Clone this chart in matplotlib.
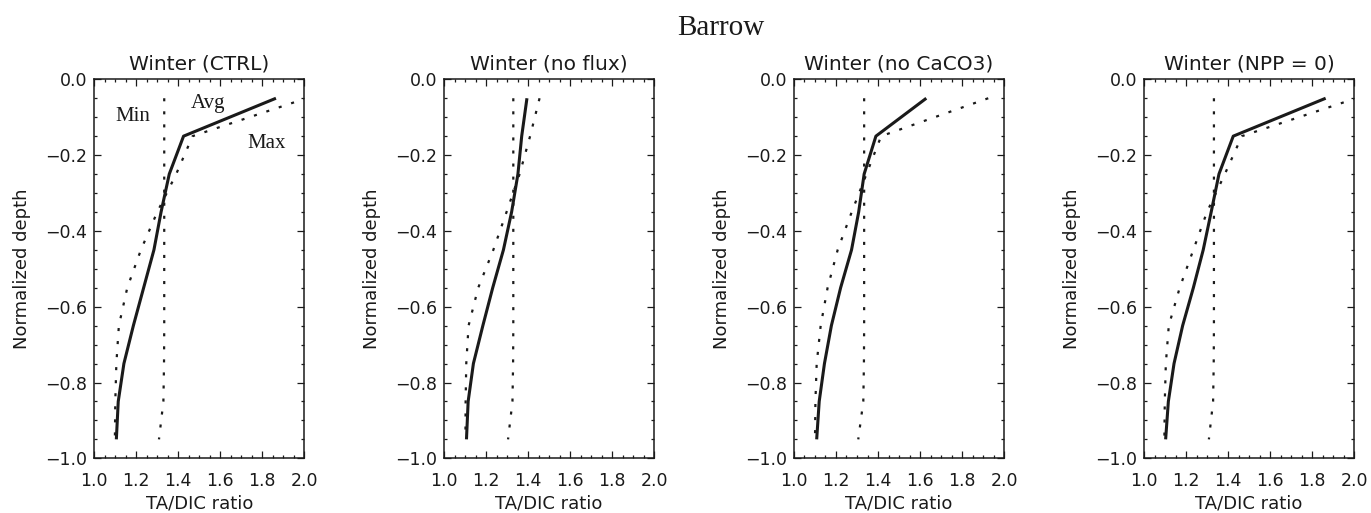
import matplotlib
matplotlib.use("Agg")
import matplotlib.pyplot as plt
from matplotlib.ticker import MultipleLocator

# ---------------- data ----------------
depth = [-0.05, -0.15, -0.25, -0.35, -0.45, -0.55, -0.65, -0.75, -0.85, -0.95]

panel_titles = ["Winter (CTRL)", "Winter (no flux)", "Winter (no CaCO3)", "Winter (NPP = 0)"]

avg_ctrl   = [1.865, 1.425, 1.357, 1.318, 1.284, 1.235, 1.186, 1.141, 1.114, 1.105]
min_ctrl   = [1.333, 1.333, 1.333, 1.333, 1.333, 1.333, 1.333, 1.332, 1.329, 1.308]
max_ctrl   = [2.010, 1.468, 1.390, 1.300, 1.222, 1.157, 1.117, 1.105, 1.100, 1.098]

avg_noflux = [1.395, 1.370, 1.352, 1.322, 1.283, 1.232, 1.185, 1.140, 1.115, 1.107]
min_noflux = [1.330, 1.330, 1.330, 1.330, 1.330, 1.330, 1.330, 1.329, 1.326, 1.305]
max_noflux = [1.455, 1.410, 1.360, 1.298, 1.235, 1.163, 1.117, 1.106, 1.103, 1.102]

avg_nocaco3 = [1.630, 1.390, 1.334, 1.308, 1.274, 1.222, 1.178, 1.145, 1.120, 1.108]
min_nocaco3 = [1.334, 1.334, 1.334, 1.334, 1.334, 1.334, 1.334, 1.333, 1.330, 1.306]
max_nocaco3 = [1.925, 1.415, 1.345, 1.275, 1.208, 1.160, 1.127, 1.108, 1.102, 1.100]

avg_npp0 = [1.865, 1.425, 1.357, 1.320, 1.282, 1.235, 1.184, 1.143, 1.116, 1.103]
min_npp0 = [1.333, 1.333, 1.333, 1.333, 1.333, 1.333, 1.333, 1.332, 1.329, 1.309]
max_npp0 = [2.010, 1.466, 1.385, 1.300, 1.235, 1.170, 1.118, 1.104, 1.099, 1.097]

avg_series = [avg_ctrl, avg_noflux, avg_nocaco3, avg_npp0]
min_series = [min_ctrl, min_noflux, min_nocaco3, min_npp0]
max_series = [max_ctrl, max_noflux, max_nocaco3, max_npp0]

x_ticks = [1.0, 1.2, 1.4, 1.6, 1.8, 2.0]
y_ticks = [0.0, -0.2, -0.4, -0.6, -0.8, -1.0]

# ---------------- figure ----------------
plt.rcParams["lines.scale_dashes"] = False
W, H = 1371, 513
fig = plt.figure(figsize=(W / 100, H / 100), dpi=100)

ink = "#1a1a1a"
lefts = [94.3, 444.0, 794.0, 1144.0]
ax_w, ax_top, ax_bot = 210.0, 79.3, 458.3

for i in range(4):
    ax = fig.add_axes([lefts[i] / W, (H - ax_bot) / H, ax_w / W, (ax_bot - ax_top) / H])
    ax.plot(min_series[i], depth, color=ink, lw=1.6, dashes=(2.2, 7.2))
    ax.plot(max_series[i], depth, color=ink, lw=1.6, dashes=(2.2, 7.2))
    ax.plot(avg_series[i], depth, color=ink, lw=2.2, solid_capstyle="butt")
    ax.set_xlim(1.0, 2.0)
    ax.set_ylim(-1.0, 0.0)
    ax.set_xticks(x_ticks)
    ax.set_xticklabels([f"{v:.1f}" for v in x_ticks])
    ax.set_yticks(y_ticks)
    ax.set_yticklabels([f"{v:.1f}".replace("-", "\u2212") for v in y_ticks])
    ax.xaxis.set_minor_locator(MultipleLocator(0.05))
    ax.yaxis.set_minor_locator(MultipleLocator(0.05))
    ax.tick_params(which="both", direction="in", top=True, right=True, colors=ink, width=0.9)
    ax.tick_params(which="major", length=5)
    ax.tick_params(which="minor", length=2.5)
    ax.tick_params(axis="x", which="major", pad=10, labelsize=12.5)
    ax.tick_params(axis="y", which="major", pad=5, labelsize=12.5)
    for sp in ax.spines.values():
        sp.set_linewidth(1.1)
        sp.set_color(ink)
    ax.set_title(panel_titles[i], fontsize=14.5, color=ink, pad=7)
    ax.set_xlabel("TA/DIC ratio", fontsize=13, color=ink)
    ax.set_ylabel("Normalized depth", fontsize=13, color=ink)
    ax.xaxis.set_label_coords(0.5, -0.095)
    ax.yaxis.set_label_coords(-0.30, 0.5)
    if i == 0:
        serif = dict(family="Liberation Serif", fontsize=15, color=ink, ha="center", va="center")
        ax.text(1.183, -0.099, "Min", **serif)
        ax.text(1.543, -0.063, "Avg", **serif)
        ax.text(1.821, -0.169, "Max", **serif)

fig.text(721 / W, 1 - 35 / H, "Barrow", family="Liberation Serif", fontsize=21,
         color=ink, ha="center", va="baseline")

fig.savefig("out.png", dpi=100)
